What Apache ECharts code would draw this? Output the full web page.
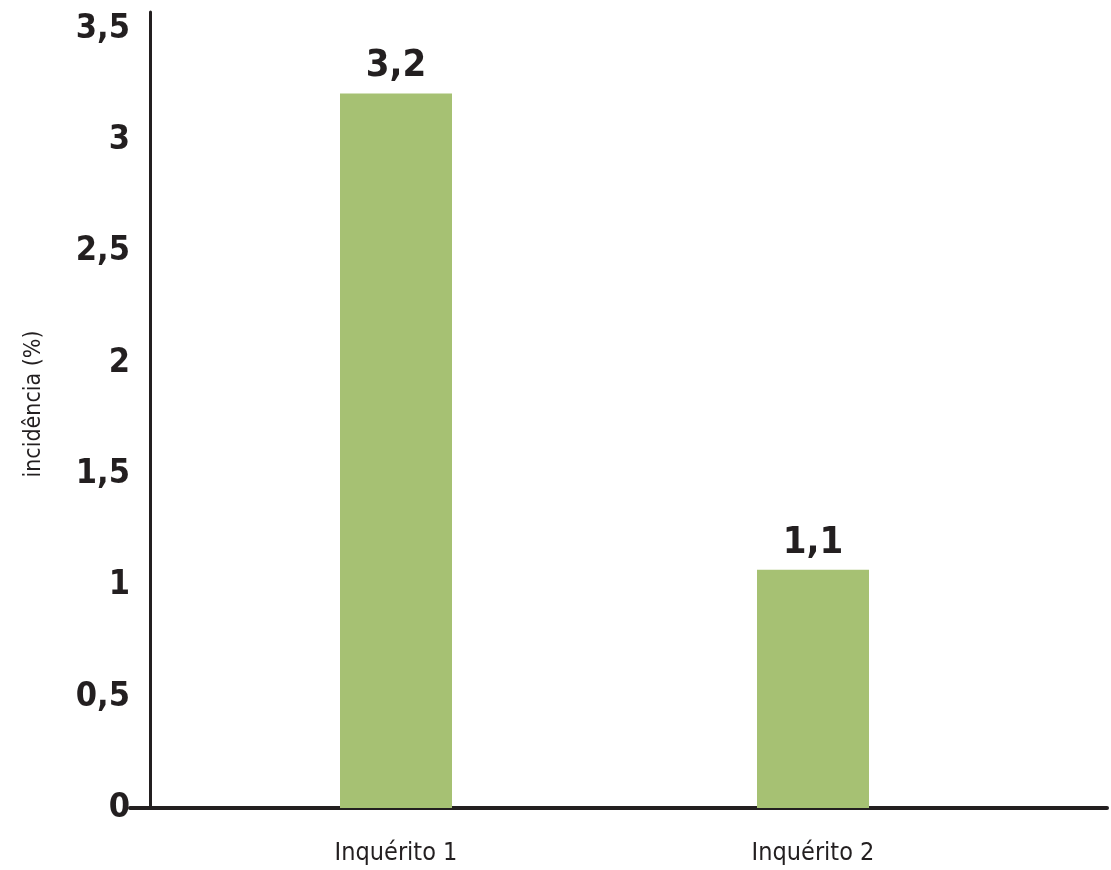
<!DOCTYPE html>
<html>
<head>
<meta charset="utf-8">
<script src="https://cdn.jsdelivr.net/npm/echarts@6/dist/echarts.min.js"></script>
<style>html,body{margin:0;padding:0;background:#fff}#c{width:1111px;height:870px}</style>
</head>
<body>
<div id="c"></div>
<script>
const categories = ['Inquérito 1', 'Inquérito 2'];
const values = [3.21, 1.07];
const yTicks = [0, 0.5, 1, 1.5, 2, 2.5, 3, 3.5];
const yName = 'incidência (%)';

const FONT = '"Liberation Sans Narrow", "DejaVu Sans Condensed", sans-serif';
const INK = '#231f20';
const fmt = v => String(v).replace('.', ',');

const chart = echarts.init(document.getElementById('c'));
chart.setOption({
  animation: false,
  backgroundColor: '#fff',
  grid: [
    { left: 187.5, right: 89.5, top: 12, bottom: 62 },
    { left: 130, right: 4, top: 12, bottom: 62 }
  ],
  xAxis: [
    {
      type: 'category', gridIndex: 0, data: categories,
      axisLine: { show: false }, axisTick: { show: false },
      axisLabel: { color: INK, fontFamily: FONT, fontSize: 25, margin: 33 }
    },
    {
      type: 'value', gridIndex: 1, min: 0, max: 1,
      axisLine: { show: true, lineStyle: { color: INK, width: 4 } },
      axisTick: { show: false }, axisLabel: { show: false }, splitLine: { show: false }
    }
  ],
  yAxis: [
    {
      type: 'value', gridIndex: 0, min: 0, max: 3.576, interval: 0.5, offset: 37.5,
      name: yName, nameLocation: 'middle', nameGap: 104,
      nameTextStyle: { color: INK, fontFamily: FONT, fontSize: 23, padding: [0, 0, 0, 12] },
      axisLine: { show: true, lineStyle: { color: INK, width: 3 } },
      axisTick: { show: false }, splitLine: { show: false },
      axisLabel: {
        color: INK, fontFamily: FONT, fontSize: 34, fontWeight: 'bold', margin: 20,
        formatter: v => (yTicks.some(t => Math.abs(t - v) < 1e-6) ? fmt(v) : '')
      }
    },
    {
      type: 'value', gridIndex: 1, show: false, min: 0, max: 1
    }
  ],
  series: [{
    type: 'bar', xAxisIndex: 0, yAxisIndex: 0,
    data: values, barWidth: 112,
    itemStyle: { color: '#a6c173' },
    label: {
      show: true, position: 'top', distance: 8,
      color: INK, fontFamily: FONT, fontSize: 38, fontWeight: 'bold',
      formatter: p => fmt(p.value.toFixed(1))
    }
  }]
});
</script>
</body>
</html>
